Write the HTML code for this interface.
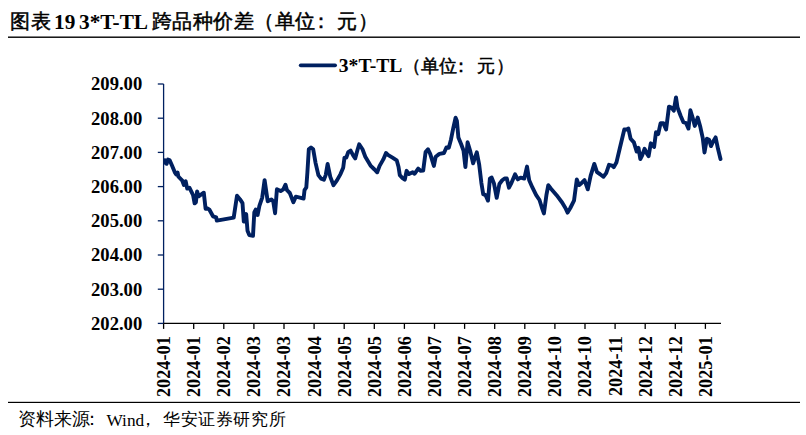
<!DOCTYPE html>
<html><head><meta charset="utf-8"><style>
html,body{margin:0;padding:0;background:#fff;}
body{width:806px;height:435px;position:relative;overflow:hidden;}
.t{position:absolute;white-space:nowrap;font-family:"Liberation Serif",serif;color:#000;line-height:1;}
.b{font-weight:bold;}
.cj{-webkit-text-stroke:0.5px #000;}
svg{position:absolute;left:0;top:0;}
.yl{font-family:"Liberation Serif",serif;font-weight:bold;font-size:18.6px;fill:#000;}
.xl{font-family:"Liberation Serif",serif;font-weight:bold;font-size:18.25px;fill:#000;}
</style></head><body>
<svg width="806" height="435" viewBox="0 0 806 435">
<rect x="8" y="36.5" width="792" height="1.4" fill="#000"/>
<rect x="8" y="401.8" width="792" height="1.2" fill="#000"/>
<line x1="163.6" y1="84.0" x2="163.6" y2="323.4" stroke="#002060" stroke-width="1.3"/>
<line x1="157.8" y1="84.0" x2="163.6" y2="84.0" stroke="#002060" stroke-width="1.3"/>
<text x="142.2" y="90.3" text-anchor="end" class="yl">209.00</text>
<line x1="157.8" y1="118.2" x2="163.6" y2="118.2" stroke="#002060" stroke-width="1.3"/>
<text x="142.2" y="124.5" text-anchor="end" class="yl">208.00</text>
<line x1="157.8" y1="152.4" x2="163.6" y2="152.4" stroke="#002060" stroke-width="1.3"/>
<text x="142.2" y="158.7" text-anchor="end" class="yl">207.00</text>
<line x1="157.8" y1="186.6" x2="163.6" y2="186.6" stroke="#002060" stroke-width="1.3"/>
<text x="142.2" y="192.9" text-anchor="end" class="yl">206.00</text>
<line x1="157.8" y1="220.8" x2="163.6" y2="220.8" stroke="#002060" stroke-width="1.3"/>
<text x="142.2" y="227.1" text-anchor="end" class="yl">205.00</text>
<line x1="157.8" y1="255.0" x2="163.6" y2="255.0" stroke="#002060" stroke-width="1.3"/>
<text x="142.2" y="261.3" text-anchor="end" class="yl">204.00</text>
<line x1="157.8" y1="289.2" x2="163.6" y2="289.2" stroke="#002060" stroke-width="1.3"/>
<text x="142.2" y="295.5" text-anchor="end" class="yl">203.00</text>
<line x1="157.8" y1="323.4" x2="163.6" y2="323.4" stroke="#002060" stroke-width="1.3"/>
<text x="142.2" y="329.7" text-anchor="end" class="yl">202.00</text>
<line x1="163.6" y1="323.4" x2="721" y2="323.4" stroke="#000" stroke-width="1.3"/>
<line x1="163.6" y1="323.4" x2="163.6" y2="328.9" stroke="#000" stroke-width="1.3"/>
<text transform="translate(170.0,336.2) rotate(-90)" text-anchor="end" class="xl">2024-01</text>
<line x1="193.7" y1="323.4" x2="193.7" y2="328.9" stroke="#000" stroke-width="1.3"/>
<text transform="translate(200.1,336.2) rotate(-90)" text-anchor="end" class="xl">2024-01</text>
<line x1="223.8" y1="323.4" x2="223.8" y2="328.9" stroke="#000" stroke-width="1.3"/>
<text transform="translate(230.2,336.2) rotate(-90)" text-anchor="end" class="xl">2024-02</text>
<line x1="253.9" y1="323.4" x2="253.9" y2="328.9" stroke="#000" stroke-width="1.3"/>
<text transform="translate(260.3,336.2) rotate(-90)" text-anchor="end" class="xl">2024-03</text>
<line x1="284.0" y1="323.4" x2="284.0" y2="328.9" stroke="#000" stroke-width="1.3"/>
<text transform="translate(290.4,336.2) rotate(-90)" text-anchor="end" class="xl">2024-03</text>
<line x1="314.1" y1="323.4" x2="314.1" y2="328.9" stroke="#000" stroke-width="1.3"/>
<text transform="translate(320.5,336.2) rotate(-90)" text-anchor="end" class="xl">2024-04</text>
<line x1="344.2" y1="323.4" x2="344.2" y2="328.9" stroke="#000" stroke-width="1.3"/>
<text transform="translate(350.6,336.2) rotate(-90)" text-anchor="end" class="xl">2024-05</text>
<line x1="374.3" y1="323.4" x2="374.3" y2="328.9" stroke="#000" stroke-width="1.3"/>
<text transform="translate(380.7,336.2) rotate(-90)" text-anchor="end" class="xl">2024-05</text>
<line x1="404.4" y1="323.4" x2="404.4" y2="328.9" stroke="#000" stroke-width="1.3"/>
<text transform="translate(410.8,336.2) rotate(-90)" text-anchor="end" class="xl">2024-06</text>
<line x1="434.5" y1="323.4" x2="434.5" y2="328.9" stroke="#000" stroke-width="1.3"/>
<text transform="translate(440.9,336.2) rotate(-90)" text-anchor="end" class="xl">2024-07</text>
<line x1="464.6" y1="323.4" x2="464.6" y2="328.9" stroke="#000" stroke-width="1.3"/>
<text transform="translate(471.0,336.2) rotate(-90)" text-anchor="end" class="xl">2024-07</text>
<line x1="494.7" y1="323.4" x2="494.7" y2="328.9" stroke="#000" stroke-width="1.3"/>
<text transform="translate(501.1,336.2) rotate(-90)" text-anchor="end" class="xl">2024-08</text>
<line x1="524.8" y1="323.4" x2="524.8" y2="328.9" stroke="#000" stroke-width="1.3"/>
<text transform="translate(531.2,336.2) rotate(-90)" text-anchor="end" class="xl">2024-09</text>
<line x1="554.9" y1="323.4" x2="554.9" y2="328.9" stroke="#000" stroke-width="1.3"/>
<text transform="translate(561.3,336.2) rotate(-90)" text-anchor="end" class="xl">2024-10</text>
<line x1="585.0" y1="323.4" x2="585.0" y2="328.9" stroke="#000" stroke-width="1.3"/>
<text transform="translate(591.4,336.2) rotate(-90)" text-anchor="end" class="xl">2024-10</text>
<line x1="615.1" y1="323.4" x2="615.1" y2="328.9" stroke="#000" stroke-width="1.3"/>
<text transform="translate(621.5,336.2) rotate(-90)" text-anchor="end" class="xl">2024-11</text>
<line x1="645.2" y1="323.4" x2="645.2" y2="328.9" stroke="#000" stroke-width="1.3"/>
<text transform="translate(651.6,336.2) rotate(-90)" text-anchor="end" class="xl">2024-12</text>
<line x1="675.3" y1="323.4" x2="675.3" y2="328.9" stroke="#000" stroke-width="1.3"/>
<text transform="translate(681.7,336.2) rotate(-90)" text-anchor="end" class="xl">2024-12</text>
<line x1="705.4" y1="323.4" x2="705.4" y2="328.9" stroke="#000" stroke-width="1.3"/>
<text transform="translate(711.8,336.2) rotate(-90)" text-anchor="end" class="xl">2025-01</text>
<line x1="300.7" y1="65.3" x2="335.1" y2="65.3" stroke="#002060" stroke-width="3.7" stroke-linecap="round"/>
<polyline points="165.0,160.2 165.4,163.0 166.6,163.8 168.0,159.6 169.8,160.4 172.0,165.6 174.7,172.1 176.2,174.5 177.6,172.6 178.4,176.7 182.1,180.3 183.9,185.0 185.7,181.3 187.2,188.6 189.4,187.7 193.1,195.1 194.6,203.3 195.9,202.4 197.1,191.4 198.6,196.3 203.8,192.7 205.6,208.9 207.8,208.5 209.3,209.5 213.0,216.3 216.2,217.4 216.8,220.6 233.7,217.6 237.0,195.7 240.1,199.4 242.5,203.1 243.8,221.5 246.2,214.1 247.5,230.7 249.3,235.0 253.0,235.8 254.3,212.3 255.7,209.5 257.6,215.0 259.4,205.9 262.2,197.6 264.6,180.1 267.7,201.3 271.4,199.4 273.2,201.3 275.1,213.2 276.9,189.3 280.6,191.1 283.3,189.3 285.5,184.7 287.0,190.2 289.8,193.0 293.4,202.2 295.8,196.7 299.9,197.6 303.6,198.5 304.5,190.2 306.3,187.5 307.4,172.3 308.8,149.3 311.0,147.5 313.2,149.3 315.6,163.1 318.4,175.1 321.1,178.7 323.9,179.7 325.7,175.1 327.6,164.0 330.3,176.9 333.5,185.2 336.8,180.6 340.5,174.1 343.2,167.7 344.5,157.6 346.3,157.6 348.2,152.1 350.6,150.6 353.3,155.7 355.2,158.5 357.4,150.2 359.2,144.3 362.5,149.3 365.3,156.7 368.0,161.3 370.8,165.9 374.5,169.5 377.2,172.3 379.6,165.9 383.3,159.4 386.0,153.0 387.9,154.8 392.5,157.6 396.7,160.3 398.5,166.8 399.8,175.1 402.6,178.2 404.8,179.7 406.6,170.8 409.0,174.1 412.7,172.3 414.5,173.8 418.2,168.6 420.6,170.8 423.2,170.5 425.6,152.1 428.0,149.3 430.2,153.9 433.9,165.9 435.7,156.7 439.4,153.9 444.0,153.0 446.4,147.5 448.8,147.7 451.0,139.4 453.2,128.4 455.6,117.7 456.9,121.0 458.4,137.6 461.1,144.0 463.5,150.5 465.4,167.0 467.6,142.2 470.3,151.4 473.1,163.3 474.9,157.8 476.8,152.3 479.2,164.7 481.4,183.1 483.2,194.1 485.6,195.1 488.0,200.6 489.9,178.5 491.7,177.6 493.9,183.1 496.7,197.8 499.4,184.0 502.2,180.3 504.6,178.5 506.8,178.5 509.0,187.7 511.4,183.1 515.1,174.3 517.8,179.4 520.6,177.6 524.3,178.5 527.0,166.6 529.2,180.3 532.5,187.7 536.2,195.1 539.5,200.0 541.7,207.0 543.9,213.4 546.4,195.2 548.3,185.1 551.0,188.7 556.6,195.2 562.1,202.5 565.4,208.0 567.6,212.6 570.3,208.0 574.0,200.7 576.8,179.5 579.0,185.1 581.4,183.2 584.5,180.1 587.8,189.3 590.6,175.9 594.3,163.9 597.0,172.2 599.8,174.0 603.4,176.8 606.2,173.1 609.0,164.8 612.1,165.7 613.7,167.2 616.4,162.6 620.1,147.0 624.3,129.5 626.6,129.5 628.4,128.6 630.6,138.7 633.9,142.4 636.7,151.6 638.5,147.9 640.3,159.0 642.2,155.3 644.6,148.8 646.8,153.4 648.6,156.2 650.8,143.3 654.1,147.0 656.0,132.3 658.2,134.1 660.6,123.1 663.3,123.1 666.1,129.5 669.0,106.6 671.4,107.5 673.8,110.6 676.0,97.4 677.5,107.5 680.6,115.7 683.4,122.2 686.1,123.1 688.5,128.6 690.4,110.2 692.6,117.6 694.8,125.9 697.7,117.6 700.3,126.8 702.7,137.8 704.5,152.5 706.9,138.7 709.1,139.7 711.0,146.1 713.2,141.5 715.6,137.4 718.0,148.8 720.5,159.0" fill="none" stroke="#002060" stroke-width="3.9" stroke-linejoin="round" stroke-linecap="round"/>
</svg>
<div class="t cj" id="t1" style="left:10px;top:12px;font-size:19.5px;letter-spacing:0.5px;">图表</div>
<div class="t b" id="t2" style="left:54px;top:11.5px;font-size:21.3px;">19</div>
<div class="t b" id="t3" style="left:79px;top:11.5px;font-size:21.3px;">3*T-TL</div>
<div class="t cj" id="t4" style="left:151.5px;top:12px;font-size:19.5px;letter-spacing:0.5px;">跨品种价差（单位</div>
<div class="t cj" id="t4b" style="left:310.5px;top:12px;font-size:19.5px;">：</div>
<div class="t cj" id="t4c" style="left:337px;top:12px;font-size:19.5px;letter-spacing:1px;">元）</div>
<div class="t b" id="l1" style="left:338.8px;top:56.2px;font-size:19.6px;">3*T-TL</div>
<div class="t cj" id="l2" style="left:403px;top:57px;font-size:18.4px;">（单位</div>
<div class="t cj" id="l2b" style="left:452px;top:57px;font-size:18.4px;">：</div>
<div class="t cj" id="l2c" style="left:477px;top:57px;font-size:18.4px;letter-spacing:1px;">元）</div>
<div class="t" id="f1" style="left:18px;top:411px;font-size:17.5px;">资料来源</div><div class="t" id="f1b" style="left:83px;top:411px;font-size:17.5px;">：</div>
<div class="t" id="f2" style="left:106.5px;top:412px;font-size:17.3px;">Wind</div>
<div class="t" id="f3a" style="left:139px;top:411px;font-size:17.5px;">，</div><div class="t" id="f3" style="left:163px;top:411px;font-size:17.2px;letter-spacing:0.6px;">华安证券研究所</div>
</body></html>
